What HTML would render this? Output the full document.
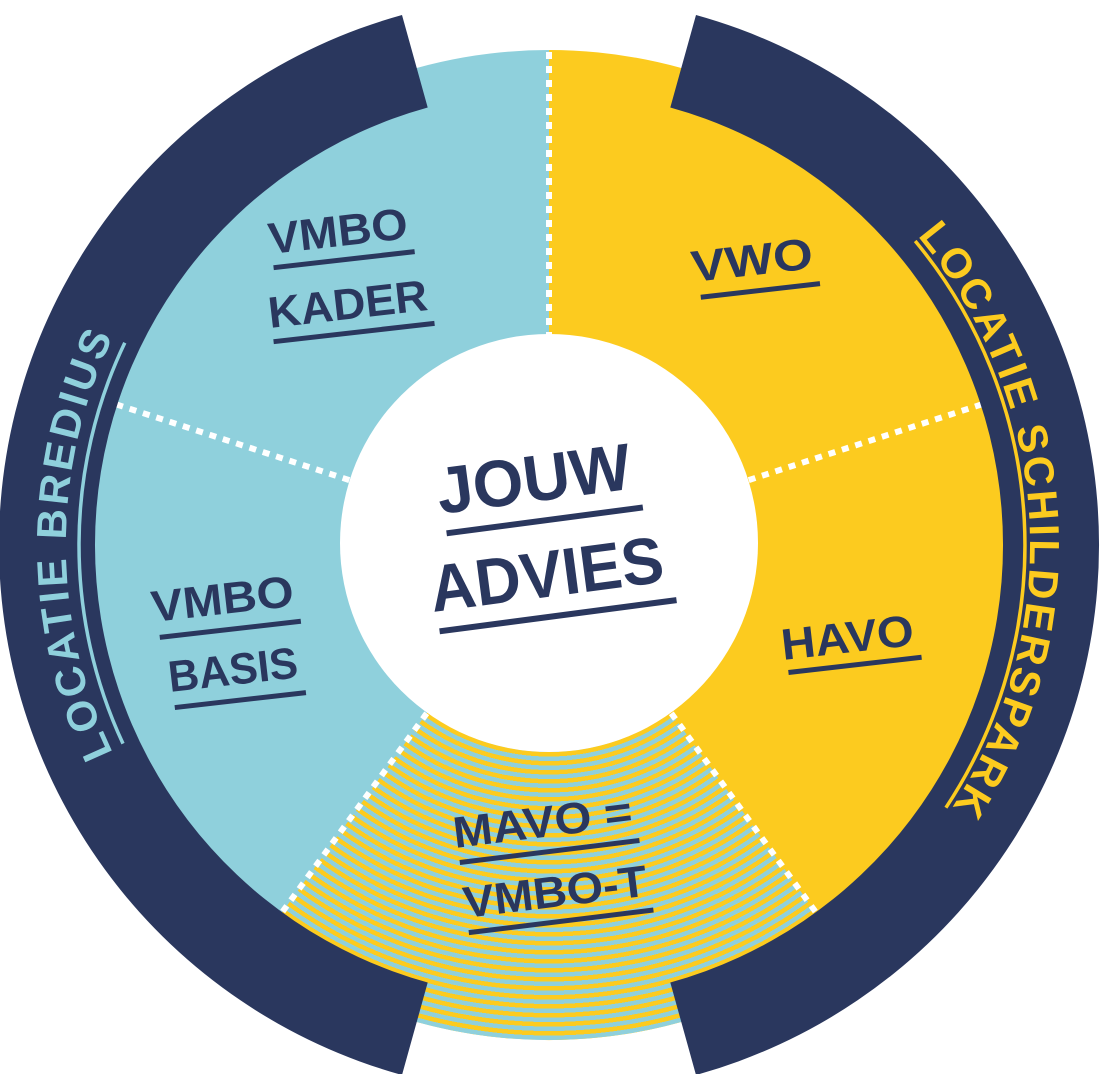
<!DOCTYPE html>
<html><head><meta charset="utf-8"><style>
html,body{margin:0;padding:0;background:#fff;}
svg{display:block}
text{font-family:"Liberation Sans",sans-serif;font-weight:bold;}
</style></head><body>
<svg width="1100" height="1074" viewBox="0 0 1100 1074" xmlns="http://www.w3.org/2000/svg">
<defs>
<radialGradient id="st" gradientUnits="userSpaceOnUse" cx="549" cy="545" r="9" spreadMethod="repeat">
<stop offset="0" stop-color="#fccb1f"/><stop offset="0.5" stop-color="#fccb1f"/>
<stop offset="0.5" stop-color="#8fd0dc"/><stop offset="1" stop-color="#8fd0dc"/>
</radialGradient>
<path id="lp" d="M383.8,998.9 A483,483 0 0 1 383.8,91.1"/>
<path id="rp" d="M713.5,93 A481,481 0 0 1 713.5,997"/>
</defs>
<path d="M549,50 A495,495 0 0 0 549,1040 Z" fill="#8fd0dc"/>
<path d="M549,50 A495,495 0 0 1 549,1040 Z" fill="#fccb1f"/>
<path d="M549,545 L840,945.5 A495,495 0 0 1 258,945.5 Z" fill="url(#st)"/>
<g stroke="#fff" stroke-width="6" stroke-dasharray="7 7" fill="none">
<line x1="549" y1="52" x2="549" y2="336"/>
<line x1="349.3" y1="480.1" x2="116.3" y2="404.4"/>
<line x1="748.7" y1="480.1" x2="981.7" y2="404.4"/>
<line x1="426.7" y1="713.3" x2="281.6" y2="913"/>
<line x1="671.3" y1="713.3" x2="816.4" y2="913"/>
</g>
<path d="M402,15 A550,550 0 0 0 402,1075 L427.7,982.5 A454,454 0 0 1 427.7,107.5 Z" fill="#2a375e"/>
<path d="M696,15 A550,550 0 0 1 696,1075 L670.3,982.5 A454,454 0 0 0 670.3,107.5 Z" fill="#2a375e"/>
<path d="M123,743.6 A470,470 0 0 1 124.8,342.7" stroke="#8fd0dc" stroke-width="3.5" fill="none"/>
<path d="M915.2,241 A476,476 0 0 1 945.9,807.7" stroke="#fccb1f" stroke-width="3.5" fill="none"/>
<text font-size="42" fill="#8fd0dc" text-anchor="middle" textLength="430" lengthAdjust="spacing"><textPath href="#lp" startOffset="50%" textLength="430" lengthAdjust="spacing">LOCATIE BREDIUS</textPath></text>
<text font-size="42" fill="#fccb1f" text-anchor="middle" textLength="613" lengthAdjust="spacing"><textPath href="#rp" startOffset="47.5%" textLength="613" lengthAdjust="spacing">LOCATIE SCHILDERSPARK</textPath></text>
<circle cx="549" cy="543" r="209" fill="#fff"/>
<g fill="#2a375e" stroke="#2a375e">
<g transform="translate(270,254) rotate(-6.5)"><text stroke="none" font-size="44" textLength="140" lengthAdjust="spacingAndGlyphs">VMBO</text><line x1="2" y1="14" x2="144" y2="14" stroke-width="5"/></g>
<g transform="translate(270,328) rotate(-6.5)"><text stroke="none" font-size="44" textLength="160" lengthAdjust="spacingAndGlyphs">KADER</text><line x1="2" y1="14" x2="164" y2="14" stroke-width="5"/></g>
<g transform="translate(693,282) rotate(-6.5)"><text stroke="none" font-size="44" textLength="122" lengthAdjust="spacingAndGlyphs">VWO</text><line x1="6" y1="16" x2="126" y2="16" stroke-width="5"/></g>
<g transform="translate(440,514) rotate(-7.5)"><text stroke="none" font-size="66" textLength="195" lengthAdjust="spacingAndGlyphs">JOUW</text><line x1="4" y1="20" x2="202" y2="20" stroke-width="6"/></g>
<g transform="translate(433,612) rotate(-7.5)"><text stroke="none" font-size="66" textLength="235" lengthAdjust="spacingAndGlyphs">ADVIES</text><line x1="4" y1="20" x2="243" y2="20" stroke-width="6"/></g>
<g transform="translate(153,622) rotate(-6.5)"><text stroke="none" font-size="44" textLength="143" lengthAdjust="spacingAndGlyphs">VMBO</text><line x1="5" y1="16" x2="147" y2="16" stroke-width="5"/></g>
<g transform="translate(170,692) rotate(-6.5)"><text stroke="none" font-size="44" textLength="130" lengthAdjust="spacingAndGlyphs">BASIS</text><line x1="3" y1="16" x2="135" y2="16" stroke-width="5"/></g>
<g transform="translate(783,660) rotate(-6.5)"><text stroke="none" font-size="44" textLength="133" lengthAdjust="spacingAndGlyphs">HAVO</text><line x1="4" y1="13" x2="138" y2="13" stroke-width="5"/></g>
<g transform="translate(455,848) rotate(-7)"><text stroke="none" font-size="44" textLength="180" lengthAdjust="spacingAndGlyphs">MAVO =</text><line x1="3" y1="15" x2="184" y2="15" stroke-width="5"/></g>
<g transform="translate(465,918) rotate(-7)"><text stroke="none" font-size="44" textLength="185" lengthAdjust="spacingAndGlyphs">VMBO-T</text><line x1="2" y1="15" x2="188" y2="15" stroke-width="5"/></g>
</g>
</svg>
</body></html>
